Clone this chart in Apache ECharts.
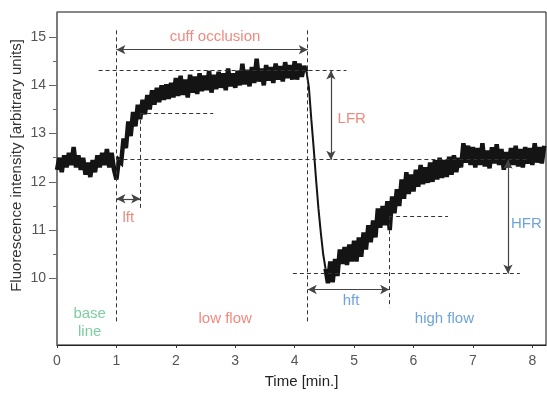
<!DOCTYPE html>
<html>
<head>
<meta charset="utf-8">
<script src="https://cdn.jsdelivr.net/npm/echarts@6/dist/echarts.min.js"></script>
<style>
  html, body { margin: 0; padding: 0; background: #fff; }
  #chart { width: 547px; height: 397px; }
</style>
</head>
<body>
<div id="chart"></div>
<script>
// one sample every 0.04 min (one row per minute)
const sampleStep = 0.04;
const signal = [
  12.25, 12.5, 12.2, 12.55, 12.3, 12.6, 12.35, 12.72, 12.3, 12.55, 12.25, 12.5, 12.15, 12.4, 12.1, 12.45, 12.2, 12.55, 12.3, 12.6, 12.35, 12.68, 12.3, 12.6, 12.25,
  12.05, 12.45, 12.4, 12.9, 12.7, 13.25, 12.95, 13.45, 13.15, 13.6, 13.3, 13.7, 13.4, 13.8, 13.5, 13.9, 13.6, 13.95, 13.65, 14.0, 13.7, 14.02, 13.72, 14.05, 13.75,
  14.15, 13.78, 14.2, 13.8, 14.12, 13.75, 14.22, 13.85, 14.18, 13.82, 14.25, 13.88, 14.2, 13.9, 14.3, 13.85, 14.22, 13.92, 14.28, 13.95, 14.25, 13.9, 14.35, 13.98, 14.25,
  13.95, 14.3, 14.0, 14.45, 14.02, 14.32, 13.98, 14.38, 14.05, 14.55, 14.08, 14.35, 14.0, 14.42, 14.1, 14.38, 14.05, 14.45, 14.12, 14.4, 14.08, 14.48, 14.15, 14.42, 14.12,
  14.5, 14.12, 14.45, 14.18, 14.4, 14.28, 13.95, 13.3, 12.7, 12.05, 11.45, 10.95, 10.5, 10.2, 9.9, 10.35, 9.92, 10.4, 10.05, 10.6, 10.3, 10.65, 10.28, 10.7, 10.35,
  10.78, 10.35, 10.85, 10.45, 10.95, 10.6, 11.1, 10.75, 11.2, 10.85, 11.45, 11.05, 11.5, 11.1, 11.6, 11.0, 11.7, 11.35, 11.85, 11.5, 12.05, 11.65, 12.2, 11.75, 12.15,
  11.8, 12.25, 11.9, 12.35, 11.95, 12.3, 11.98, 12.4, 12.0, 12.45, 12.05, 12.5, 12.08, 12.45, 12.1, 12.52, 12.15, 12.55, 12.2, 12.5, 12.3, 12.8, 12.4, 12.75, 12.35,
  12.72, 12.3, 12.7, 12.35, 12.8, 12.32, 12.65, 12.28, 12.72, 12.38, 12.78, 12.35, 12.68, 12.25, 12.62, 12.3, 12.7, 12.35, 12.75, 12.32, 12.68, 12.3, 12.72, 12.38, 12.7,
  12.35, 12.8, 12.4, 12.72, 12.38, 12.75
];
// the fast drop after cuff release (sample indices), drawn as a thin line
const dropFrom = 105;
const dropTo = 113;

const yTickValues = [10, 11, 12, 13, 14, 15];
const yMinorValues = [10.5, 11.5, 12.5, 13.5, 14.5];

// dashed guides: [x1, y1, x2, y2]
const guides = [
  [1.0, 15.14, 1.0, 9.07],
  [4.22, 15.14, 4.22, 9.07],
  [0.7, 14.31, 4.87, 14.31],
  [1.4, 13.43, 2.63, 13.43],
  [1.4, 13.43, 1.4, 11.4],
  [1.0, 12.46, 7.9, 12.46],
  [3.97, 10.1, 7.79, 10.1],
  [5.59, 11.29, 6.58, 11.29],
  [5.59, 11.29, 5.59, 9.4]
];

// double arrows: [x1, y1, x2, y2]
const arrows = [
  [1.0, 14.74, 4.22, 14.74],
  [1.0, 11.65, 1.4, 11.65],
  [4.22, 9.77, 5.59, 9.77],
  [4.61, 14.31, 4.61, 12.46],
  [7.59, 12.46, 7.59, 10.1]
];

const red = '#ee6a5c';
const blue = '#4a8ccf';
const green = '#5cc089';

// text notes: [text, x, y, colour]
const notes = [
  ['cuff occlusion', 2.66, 15.0, red],
  ['lft', 1.2, 11.25, red],
  ['LFR', 4.96, 13.31, red],
  ['hft', 4.95, 9.53, blue],
  ['HFR', 7.9, 11.14, blue],
  ['base\nline', 0.55, 9.08, green],
  ['low flow', 2.83, 9.17, red],
  ['high flow', 6.52, 9.17, blue]
];

const font = 'Liberation Sans, Arial, sans-serif';
const chart = echarts.init(document.getElementById('chart'));

const points = signal.map((v, i) => [+(i * sampleStep).toFixed(2), v]);
const noisyPart = points.map((p, i) => (i > dropFrom && i < dropTo ? [p[0], null] : p));
const dropPart = points.slice(dropFrom, dropTo + 1);

const option = {
  animation: false,
  textStyle: { fontFamily: font },
  grid: {
    left: 57, right: 1, top: 12, bottom: 52,
    outerBoundsMode: 'none',
    containLabel: false,
    show: true, borderColor: '#111', borderWidth: 1
  },
  xAxis: {
    type: 'value',
    min: 0, max: 8.23, interval: 1,
    name: 'Time [min.]',
    nameLocation: 'middle',
    nameGap: 29,
    nameMoveOverlap: false,
    nameTextStyle: { fontSize: 15, color: '#222', fontFamily: font },
    axisLine: { show: true, lineStyle: { color: '#222', width: 1.2 } },
    axisTick: { show: true, length: 3, lineStyle: { color: '#333' } },
    axisLabel: { fontSize: 14, color: '#555', margin: 9, fontFamily: font },
    splitLine: { show: false }
  },
  yAxis: [
    {
      type: 'value',
      min: 8.62, max: 15.52,
      name: 'Fluorescence intensity [arbitrary units]',
      nameLocation: 'middle',
      nameGap: 33,
      nameMoveOverlap: false,
      nameTextStyle: { fontSize: 15, color: '#333', fontFamily: font, padding: [0, 0, 0, 26] },
      axisLine: { show: true, lineStyle: { color: '#777', width: 1.5 } },
      axisTick: { show: true, length: 8, customValues: yTickValues, lineStyle: { color: '#666' } },
      axisLabel: { fontSize: 14, color: '#555', margin: 11, customValues: yTickValues, fontFamily: font },
      splitLine: { show: false }
    },
    {
      type: 'value',
      min: 8.62, max: 15.52,
      position: 'left',
      axisLine: { show: false },
      axisTick: { show: true, length: 4, customValues: yMinorValues, lineStyle: { color: '#666' } },
      axisLabel: { show: false },
      splitLine: { show: false }
    }
  ],
  series: [
    {
      name: 'signal',
      type: 'line',
      data: noisyPart,
      showSymbol: false,
      connectNulls: false,
      lineStyle: { color: '#141414', width: 4.5, join: 'miter', miterLimit: 3 },
      z: 3,
      markLine: {
        silent: true,
        symbol: 'none',
        label: { show: false },
        lineStyle: { color: '#333', width: 1, type: [4, 3] },
        data: guides.map(g => [{ coord: [g[0], g[1]] }, { coord: [g[2], g[3]] }])
      }
    },
    {
      name: 'drop',
      type: 'line',
      data: dropPart,
      showSymbol: false,
      lineStyle: { color: '#141414', width: 2 },
      z: 3
    },
    {
      name: 'notes',
      type: 'scatter',
      symbolSize: 0,
      silent: true,
      z: 5,
      data: notes.map(n => ({
        name: n[0],
        value: [n[1], n[2]],
        label: { color: n[3] }
      })),
      label: {
        show: true,
        position: 'inside',
        formatter: '{b}',
        fontSize: 15,
        lineHeight: 18,
        fontFamily: font
      },
      markLine: {
        silent: true,
        symbol: ['arrow', 'arrow'],
        symbolSize: [7, 9],
        label: { show: false },
        lineStyle: { color: '#444', width: 1.2, type: 'solid' },
        data: arrows.map(a => [{ coord: [a[0], a[1]] }, { coord: [a[2], a[3]] }])
      }
    }
  ]
};

chart.setOption(option);
</script>
</body>
</html>
